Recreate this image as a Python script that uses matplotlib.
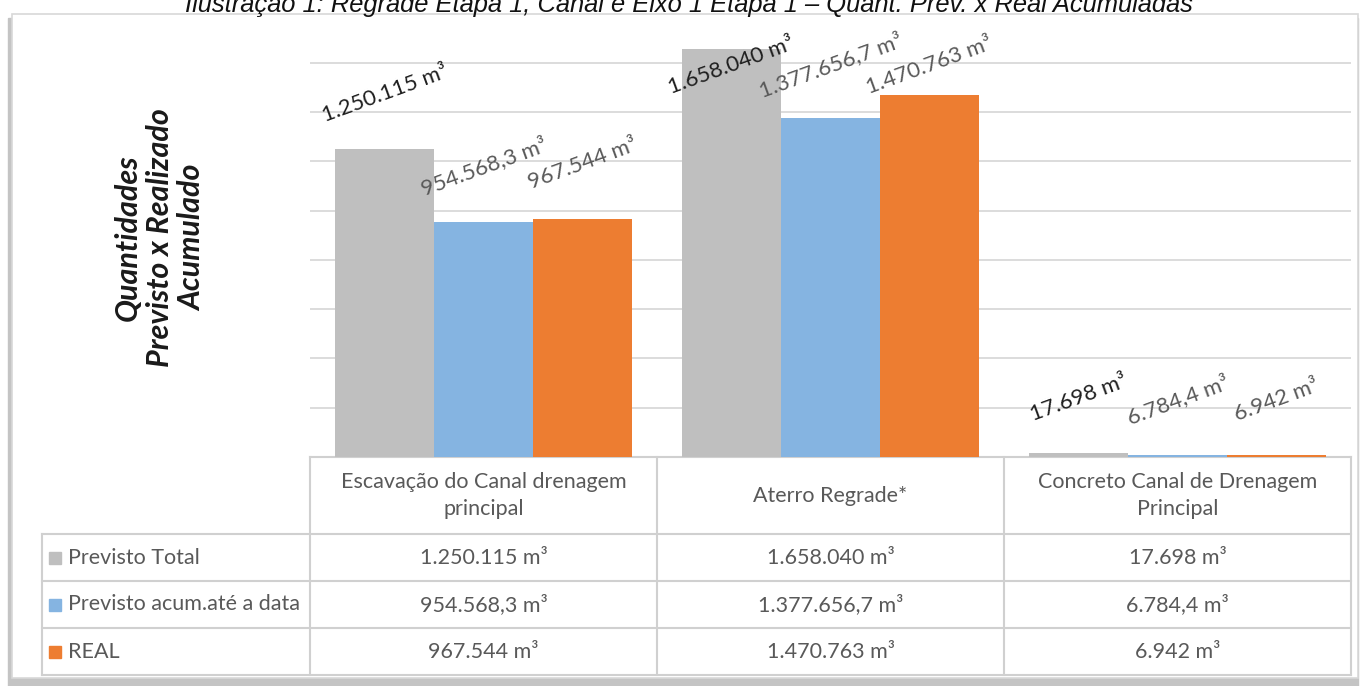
import numpy as np
import matplotlib.pyplot as plt
from matplotlib.patches import Rectangle

# dados do gráfico
titulo = "Ilustração 1: Regrade Etapa 1, Canal e Eixo 1 Etapa 1 – Quant. Prev. x Real Acumuladas"
titulo_eixo = "Quantidades\nPrevisto x Realizado\nAcumulado"
categorias = ["Escavação do Canal drenagem\nprincipal", "Aterro Regrade*",
              "Concreto Canal de Drenagem\nPrincipal"]
series = ["Previsto Total", "Previsto acum.até a data", "REAL"]
previsto_total = [1250115, 1658040, 17698]
previsto_acum = [954568.3, 1377656.7, 6784.4]
real = [967544, 1470763, 6942]
rotulos_total = ["1.250.115 m³", "1.658.040 m³", "17.698 m³"]
rotulos_acum = ["954.568,3 m³", "1.377.656,7 m³", "6.784,4 m³"]
rotulos_real = ["967.544 m³", "1.470.763 m³", "6.942 m³"]

cores = ["#BFBFBF", "#85B4E1", "#ED7D31"]
cor_rotulo = ["#1f1f1f", "#595959", "#595959"]
cor_texto = "#595959"
fonte = ["Lato", "DejaVu Sans"]

W, H = 1363, 686
fig = plt.figure(figsize=(W / 100, H / 100), dpi=100)


def caixa(x0, y0, x1, y1):
    # pixels -> coordenadas da figura
    return [x0 / W, 1 - y1 / H, (x1 - x0) / W, (y1 - y0) / H]


# fundo com moldura e sombra
fundo = fig.add_axes([0, 0, 1, 1])
fundo.set_xlim(0, W)
fundo.set_ylim(H, 0)
fundo.axis("off")
fundo.add_patch(Rectangle((8, 18), 1350, 668, color="#c4c4c4", zorder=0))
fundo.add_patch(Rectangle((12, 14), 1346, 664, facecolor="white",
                          edgecolor="#d8d8d8", lw=1.2, zorder=1))

# área das barras
ax = fig.add_axes(caixa(310, 26, 1351, 457), facecolor="none", zorder=2)
x = np.arange(len(categorias))
w = 0.285
valores = [previsto_total, previsto_acum, real]
rotulos = [rotulos_total, rotulos_acum, rotulos_real]
for k, (vals, cor) in enumerate(zip(valores, cores)):
    ax.bar(x + (k - 1) * w, vals, w, color=cor, zorder=2)
    for i, v in enumerate(vals):
        y = min(v + 223000, 1590000)
        ax.text(x[i] + (k - 1) * w, y, rotulos[k][i], rotation=20,
                rotation_mode="anchor", ha="center", va="center",
                fontsize=16, color=cor_rotulo[k], family=fonte, zorder=3)

ax.set_xlim(-0.5, 2.5)
ax.set_ylim(0, 1750000)
ax.set_yticks(np.arange(200000, 1600001, 200000))
ax.yaxis.grid(True, color="#d9d9d9", lw=1.3, zorder=0)
ax.set_axisbelow(True)
ax.set_xticks([])
ax.tick_params(left=False, labelleft=False)
for s in ax.spines.values():
    s.set_visible(False)

# tabela de dados
cols = [310 + i * 347 for i in range(4)]
esq = 42
linhas = [457, 534, 581, 628, 675]
lc = "#d0d0d0"
fundo.plot([cols[0], cols[-1]], [linhas[0], linhas[0]], color=lc, lw=1.5, zorder=3)
for yl in linhas[1:]:
    fundo.plot([esq, cols[-1]], [yl, yl], color=lc, lw=1.5, zorder=3)
for xc in cols:
    fundo.plot([xc, xc], [linhas[0], linhas[-1]], color=lc, lw=1.5, zorder=3)
fundo.plot([esq, esq], [linhas[1], linhas[-1]], color=lc, lw=1.5, zorder=3)

for i, cat in enumerate(categorias):
    cx = (cols[i] + cols[i + 1]) / 2
    fundo.text(cx, (linhas[0] + linhas[1]) / 2, cat, ha="center", va="center",
               fontsize=15.5, color=cor_texto, family=fonte, linespacing=1.45, zorder=4)
    for k in range(3):
        cy = (linhas[k + 1] + linhas[k + 2]) / 2
        fundo.text(cx, cy, rotulos[k][i], ha="center", va="center",
                   fontsize=15.5, color=cor_texto, family=fonte, zorder=4)

for k, nome in enumerate(series):
    cy = (linhas[k + 1] + linhas[k + 2]) / 2
    fundo.add_patch(Rectangle((49, cy - 6), 12, 12, color=cores[k], zorder=4))
    fundo.text(68, cy, nome, ha="left", va="center", fontsize=15.5,
               color=cor_texto, family=fonte, zorder=4)

# título do eixo
fig.text(160 / W, 1 - 238 / H, titulo_eixo, rotation=90, ha="center", va="center",
         fontsize=22, fontweight="bold", style="italic", family=["Lato", "DejaVu Sans"],
         color="#1a1a1a", linespacing=1.2)

# título (cortado no topo, como no original)
fig.text(689 / W, 1 - 12 / H, titulo, ha="center", va="baseline", fontsize=18.4,
         style="italic", family=["Liberation Sans", "DejaVu Sans"], color="#111111")

fig.savefig("out.png", dpi=100)
